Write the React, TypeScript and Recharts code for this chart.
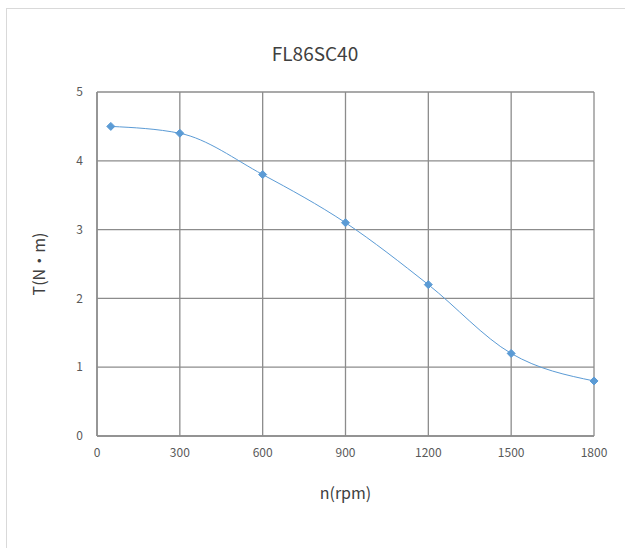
import { LineChart, Line, XAxis, YAxis, CartesianGrid, Label } from "recharts";

const speeds = [50, 300, 600, 900, 1200, 1500, 1800];
const torque = [4.5, 4.4, 3.8, 3.1, 2.2, 1.2, 0.8];
const xTicks = [0, 300, 600, 900, 1200, 1500, 1800];
const yTicks = [0, 1, 2, 3, 4, 5];

const data = speeds.map((n, i) => ({ n, t: torque[i] }));

const font = '"Noto Sans CJK SC", "Noto Sans", sans-serif';
const lineColor = "#5B9BD5";
const gridColor = "#8c8c8c";

const Diamond = (props: any) => {
  const { cx, cy } = props;
  if (cx == null || cy == null) return null;
  const r = 4;
  return (
    <polygon
      points={`${cx},${cy - r} ${cx + r},${cy} ${cx},${cy + r} ${cx - r},${cy}`}
      fill={lineColor}
      stroke={lineColor}
      strokeWidth={1}
    />
  );
};

export default function App() {
  return (
    <div style={{ position: "absolute", left: 0, top: 0, width: 625, height: 548, background: "#fff", fontFamily: font }}>
      <div
        style={{
          position: "absolute",
          left: 6,
          top: 8,
          width: 640,
          height: 560,
          border: "1px solid #d9d9d9",
          boxSizing: "border-box",
        }}
      />
      <div
        style={{
          position: "absolute",
          left: 0,
          width: 630,
          top: 39,
          textAlign: "center",
          fontSize: 19,
          color: "#404040",
          fontFamily: font,
        }}
      >
        FL86SC40
      </div>
      <div style={{ position: "absolute", left: 0, top: 0 }}>
        <LineChart
          width={625}
          height={548}
          data={data}
          margin={{ top: 92, right: 31, bottom: 72, left: 37 }}
        >
          <CartesianGrid stroke={gridColor} strokeWidth={1.3} />
          <XAxis
            dataKey="n"
            type="number"
            domain={[0, 1800]}
            ticks={xTicks}
            height={40}
            tickLine={false}
            axisLine={{ stroke: gridColor, strokeWidth: 1.5 }}
            tick={{ fill: "#595959", fontSize: 12, fontFamily: font }}
            tickMargin={6}
            interval={0}
          >
            <Label value="n(rpm)" position="bottom" offset={12} style={{ fill: "#404040", fontSize: 16, fontFamily: font }} />
          </XAxis>
          <YAxis
            type="number"
            domain={[0, 5]}
            ticks={yTicks}
            width={60}
            tickLine={false}
            axisLine={{ stroke: gridColor, strokeWidth: 1.5 }}
            tick={{ fill: "#595959", fontSize: 12, fontFamily: font }}
            tickMargin={8}
            interval={0}
          >
            <Label value="T(N·m)" angle={-90} position="insideLeft" offset={2} style={{ fill: "#404040", fontSize: 16, fontFamily: font, textAnchor: "middle" }} />
          </YAxis>
          <Line
            type="monotone"
            dataKey="t"
            stroke={lineColor}
            strokeWidth={1}
            dot={<Diamond />}
            activeDot={false}
            isAnimationActive={false}
          />
        </LineChart>
      </div>
    </div>
  );
}
